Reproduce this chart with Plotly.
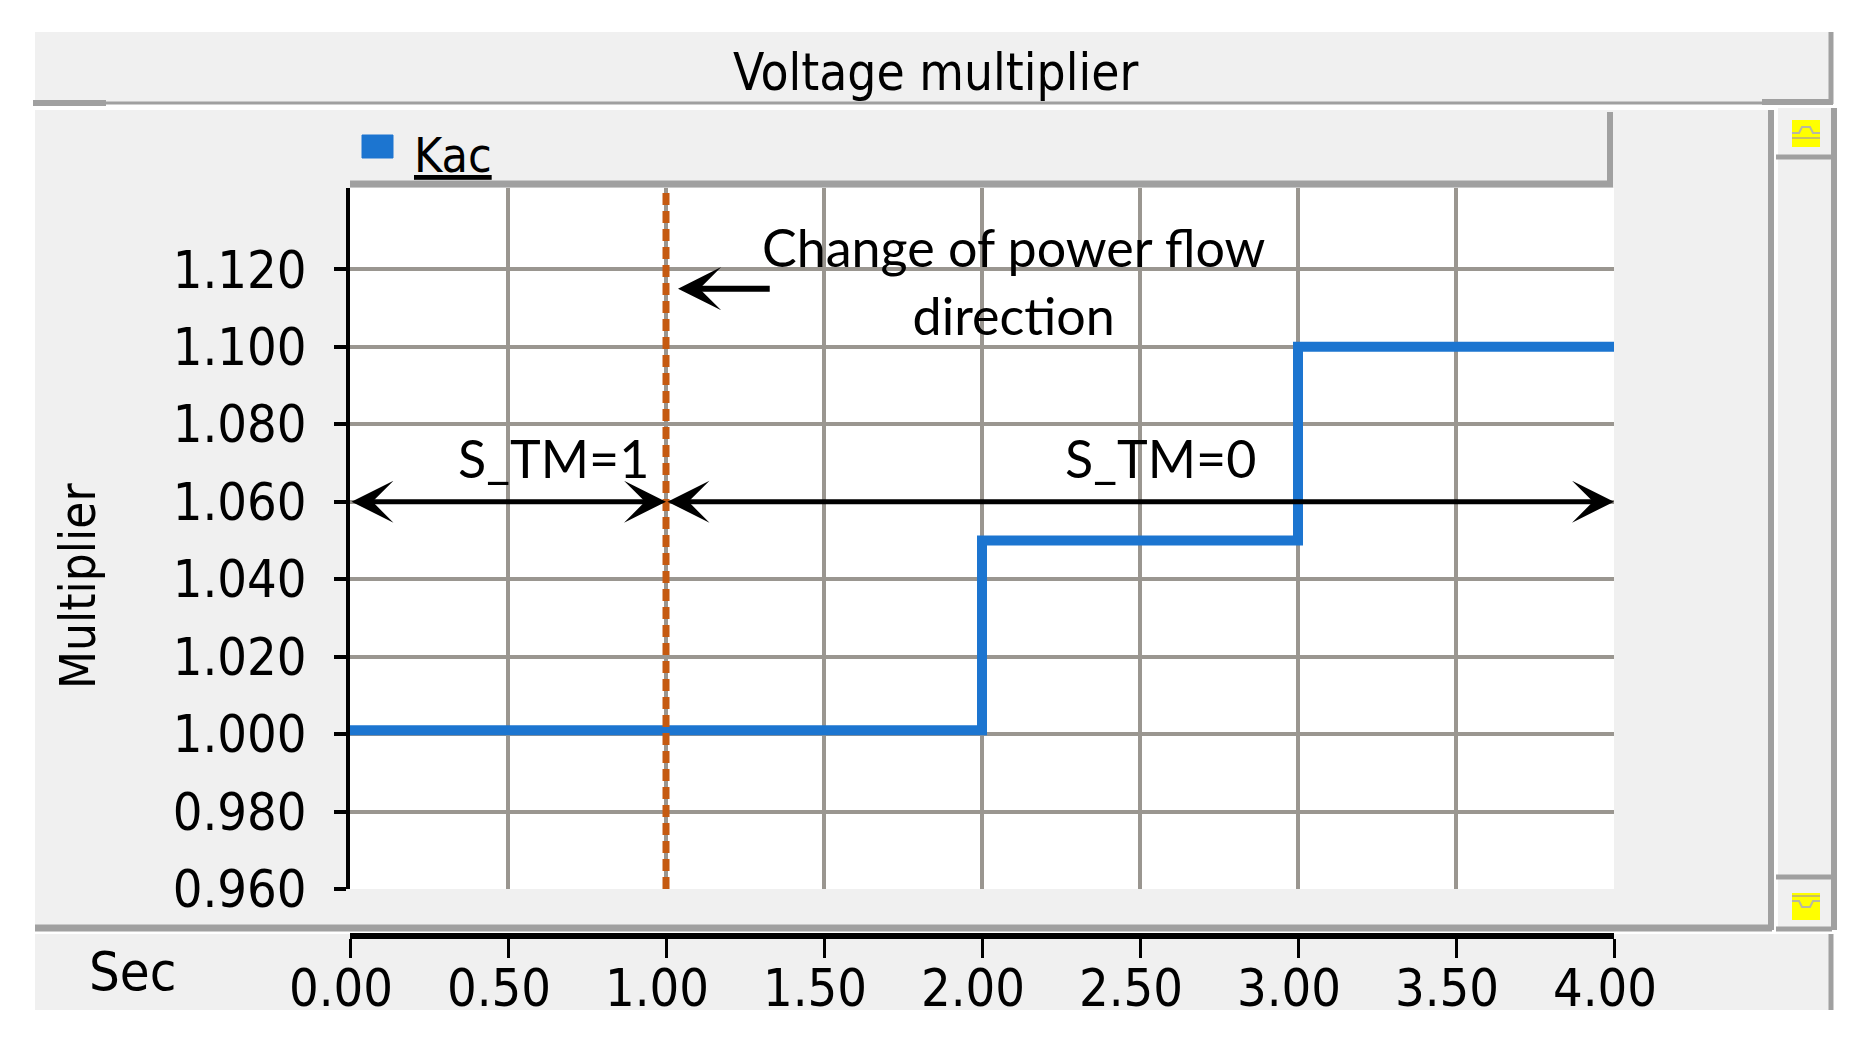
import plotly.graph_objects as go

# ---- data ----
t_kac = [0.0, 2.0, 3.0, 4.0]
kac = [1.001, 1.05, 1.10, 1.10]

y_ticks = [0.96, 0.98, 1.00, 1.02, 1.04, 1.06, 1.08, 1.10, 1.12]
y_labels = ['0.960', '0.980', '1.000', '1.020', '1.040', '1.060', '1.080', '1.100', '1.120']
x_ticks = [0.0, 0.5, 1.0, 1.5, 2.0, 2.5, 3.0, 3.5, 4.0]
x_labels = ['0.00', '0.50', '1.00', '1.50', '2.00', '2.50', '3.00', '3.50', '4.00']

t_switch = 1.0          # change of power flow direction
t_end = 4.0
arrow_level = 1.06
s_tm_text = ['S_TM=1', 'S_TM=0']
s_tm_x = [0.644, 2.564]
s_tm_y = 1.0712
note_text = 'Change of power flow<br>direction'
note_x, note_y = 2.10, 1.117
note_arrow_tail = 1.333
note_arrow_head = 1.038
note_arrow_y = 1.115

y_min, y_max = 0.96, 1.141

# the page puts the figure 8px in from the top-left corner
OFF = 8
W, H = 1875 - OFF, 1039 - OFF
PANEL = '#F0F0F0'
EDGE = '#A0A0A0'
GRID = '#9A9690'
TICKFONT = 'DejaVu Sans Condensed, DejaVu Sans, sans-serif'
NOTEFONT = 'Lato, Open Sans, sans-serif'


def px(x):
    return (x - OFF) / W


def py(y):
    return 1 - (y - OFF) / H


def box(x0, y0, x1, y1, fill, line=None, width=0):
    return dict(type='rect', xref='paper', yref='paper', layer='below',
                x0=px(x0), x1=px(x1), y0=py(y1), y1=py(y0),
                fillcolor=fill, line=dict(color=line or fill, width=width))


def seg(x0, y0, x1, y1, color=EDGE, width=4):
    return dict(type='line', xref='paper', yref='paper', layer='below',
                x0=px(x0), x1=px(x1), y0=py(y0), y1=py(y1),
                line=dict(color=color, width=width))


def label(text, x, y, size, family=TICKFONT, angle=0):
    return dict(text=text, xref='paper', yref='paper', x=px(x), y=py(y),
                xanchor='center', yanchor='middle', textangle=angle, showarrow=False,
                font=dict(family=family, size=size, color='black'))


fig = go.Figure()

fig.add_trace(go.Scatter(
    x=t_kac, y=kac, mode='lines', line=dict(color='#1C75D0', width=10, shape='hv'),
    name='Kac', showlegend=False, hoverinfo='skip'
))

# dotted marker of the direction change, drawn on the lower (free) time axis
fig.add_trace(go.Scatter(
    x=[t_switch, t_switch], y=[y_min, y_max], mode='lines', xaxis='x2', yaxis='y',
    line=dict(color='#C55A11', width=7, dash='12px,6px'),
    showlegend=False, hoverinfo='skip'
))

shapes = [
    # title bar
    box(35, 32, 1833, 104, PANEL),
    seg(35, 103, 1833, 103, width=3),
    seg(1831, 32, 1831, 104, width=5),
    seg(33, 103, 106, 103, width=6),
    seg(1762, 102, 1833, 102, width=6),
    # main panel
    box(35, 110, 1772, 928, PANEL),
    seg(1771, 110, 1771, 930, width=6),
    seg(35, 928, 1772, 928, width=7),
    # legend strip
    box(350, 115, 1612, 186, PANEL),
    seg(350, 184, 1613, 184, width=7),
    seg(1610, 112, 1610, 187, width=6),
    # white plotting area
    box(350, 188, 1614, 889, 'white'),
    # scroll bar
    box(1778, 108, 1834, 930, PANEL),
    seg(1834, 108, 1834, 930, width=6),
    seg(1776, 157, 1832, 157, width=5),
    seg(1776, 877, 1832, 877, width=5),
    seg(1776, 929, 1832, 929, width=5),
    box(1792, 120, 1820, 147, '#FFFF00'),
    dict(type='path', xref='paper', yref='paper', layer='below',
         path='M {} {} L {} {} L {} {} L {} {} L {} {} L {} {}'.format(
             px(1792), py(133), px(1799), py(133), px(1802), py(127),
             px(1810), py(127), px(1813), py(133), px(1820), py(133)),
         line=dict(color='#B8B8A0', width=2)),
    seg(1792, 138, 1820, 138, color='#C8C060', width=2),
    box(1792, 893, 1820, 920, '#FFFF00'),
    seg(1792, 896, 1820, 896, color='#C8C060', width=2),
    dict(type='path', xref='paper', yref='paper', layer='below',
         path='M {} {} L {} {} L {} {} L {} {} L {} {} L {} {}'.format(
             px(1792), py(901), px(1799), py(901), px(1802), py(907),
             px(1810), py(907), px(1813), py(901), px(1820), py(901)),
         line=dict(color='#B8B8A0', width=2)),
    # time axis strip
    box(35, 934, 1833, 1010, PANEL),
    seg(1831, 934, 1831, 1010, width=5),
    # legend swatch
    dict(type='rect', xref='paper', yref='paper', layer='above',
         x0=px(362), x1=px(393), y0=py(158), y1=py(135),
         fillcolor='#1C75D0', line=dict(color='#1C75D0', width=1)),
]

annotations = [
    label('Voltage multiplier', 935, 72, 51),
    dict(text='<u>Kac</u>', xref='paper', yref='paper', x=px(412), y=py(155),
         xanchor='left', yanchor='middle', showarrow=False,
         font=dict(family=TICKFONT, size=48, color='black')),
    label('Multiplier', 78, 586, 49, angle=-90),
    label('Sec', 132, 971, 54),
    dict(text=note_text, x=note_x, y=note_y, showarrow=False,
         xanchor='center', yanchor='middle',
         font=dict(family=NOTEFONT, size=52, color='black')),
    # note arrow
    dict(text='', x=note_arrow_head, y=note_arrow_y, ax=note_arrow_tail, ay=note_arrow_y,
         axref='x', ayref='y', showarrow=True, arrowhead=3, arrowsize=1.2, arrowwidth=6,
         arrowcolor='black'),
    # S_TM double arrows
    dict(text='', x=t_switch, y=arrow_level, ax=0, ay=arrow_level, axref='x', ayref='y',
         showarrow=True, arrowside='end+start', arrowhead=3, startarrowhead=3,
         arrowsize=1.4, startarrowsize=1.4, arrowwidth=5, arrowcolor='black'),
    dict(text='', x=t_end, y=arrow_level, ax=t_switch, ay=arrow_level, axref='x', ayref='y',
         showarrow=True, arrowside='end+start', arrowhead=3, startarrowhead=3,
         arrowsize=1.4, startarrowsize=1.4, arrowwidth=5, arrowcolor='black'),
]
for txt, xx in zip(s_tm_text, s_tm_x):
    annotations.append(dict(text=txt, x=xx, y=s_tm_y, showarrow=False,
                            xanchor='center', yanchor='middle',
                            font=dict(family=NOTEFONT, size=52, color='black')))

fig.update_layout(
    width=W, height=H,
    autosize=False,
    margin=dict(l=0, r=0, t=0, b=0, pad=0),
    paper_bgcolor='white',
    plot_bgcolor='rgba(0,0,0,0)',
    showlegend=False,
    shapes=shapes,
    annotations=annotations,
    xaxis=dict(
        domain=[px(350), px(1614)], range=[0, t_end], automargin=False,
        tickvals=x_ticks, showticklabels=False, ticks='',
        showgrid=True, gridcolor=GRID, gridwidth=4,
        showline=False, zeroline=False, fixedrange=True,
    ),
    xaxis2=dict(
        overlaying='x', anchor='free', position=py(936), side='bottom',
        range=[0, t_end], tickvals=x_ticks, ticktext=x_labels, automargin=False,
        ticks='outside', ticklen=19, tickwidth=3, tickcolor='black',
        ticklabelstandoff=-14, ticklabelshift=-9,
        showline=True, linewidth=6, linecolor='black',
        showgrid=False, zeroline=False,
        tickfont=dict(family=TICKFONT, size=52, color='black'),
    ),
    yaxis=dict(
        domain=[py(889), py(188)], range=[y_min, y_max], automargin=False,
        tickvals=y_ticks, ticktext=y_labels,
        ticks='outside', ticklen=12, tickwidth=4, tickcolor='black',
        ticklabelstandoff=17,
        showline=True, linewidth=4, linecolor='black',
        showgrid=True, gridcolor=GRID, gridwidth=4, zeroline=False,
        tickfont=dict(family=TICKFONT, size=52, color='black'),
    ),
)

fig.write_html('out.html')
